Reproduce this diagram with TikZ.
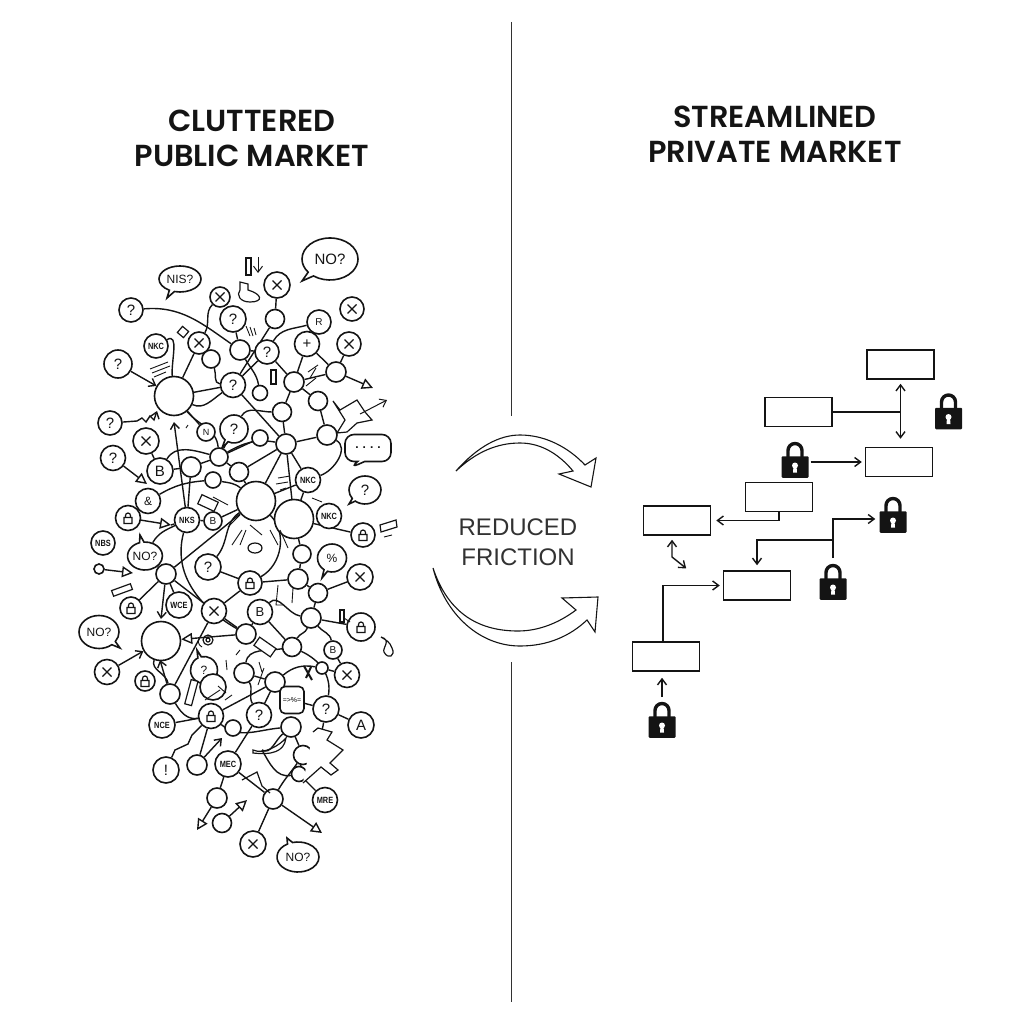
\documentclass[tikz,border=0pt]{standalone}
\usepackage{fontspec}
\setmainfont{Liberation Sans}
\newfontfamily\titlefont{Poppins SemiBold}
\newfontfamily\tagfont[FakeStretch=0.82]{Liberation Sans Bold}
\usepackage{xcolor}
\usetikzlibrary{
    arrows.meta,
    positioning,
    backgrounds,
    shapes.geometric,
    shapes.callouts
}
\definecolor{inkBlack}{RGB}{20,20,20}
\definecolor{ruleGray}{RGB}{50,50,50}
\tikzset{
  circ/.style    = {circle, draw=inkBlack, line width=1.6pt, fill=white, inner sep=0pt,
                    minimum size=#1, font=\fontsize{15}{15}\selectfont, text=inkBlack},
  tagn/.style    = {circ=#1, font=\tagfont\fontsize{9}{9}\selectfont},
  crossn/.style  = {circ=#1, path picture={\draw[line width=1.2pt, inkBlack,
                    shift={(path picture bounding box.center)}]
                    (-4.5,-4.5) -- (4.5,4.5) (-4.5,4.5) -- (4.5,-4.5);}},
  lockn/.style   = {circ=#1, path picture={\draw[line width=1.2pt, inkBlack,
                    shift={(path picture bounding box.center)}]
                    (-4,-5.5) rectangle (4,0.5) (-2.5,0.5) -- (-2.5,2.5) arc (180:0:2.5) -- (2.5,0.5);}},
  talk/.style    = {ellipse callout, draw=inkBlack, line width=1.6pt, fill=white, inner sep=0pt,
                    font=\fontsize{12}{12}\selectfont, text=inkBlack},
  box/.style     = {draw=inkBlack, line width=1.5pt, minimum width=67pt, minimum height=29pt,
                    inner sep=0pt},
  wire/.style    = {draw=inkBlack, line width=1.4pt},
  arr/.style     = {wire, -{Straight Barb[length=6pt,width=9pt]}},
  arro/.style    = {wire, -{Triangle[open,length=11pt,width=11pt,fill=white]}},
  barr/.style    = {wire, shorten <=4pt, shorten >=8pt},
  scrib/.style   = {draw=inkBlack, line width=0.9pt},
  lockblack/.pic = {
    \node[fill=inkBlack, rounded corners=1pt, minimum width=27pt, minimum height=21.5pt,
          inner sep=0pt] (-b) at (0,0) {};
    \draw[inkBlack, line width=3.4pt] (-7,9) -- (-7,16.5) arc (180:0:7) -- (7,9);
    \fill[white] (0,1.5) circle (3pt);
    \fill[white] (-1.5,1) -- (1.5,1) -- (2,-5.5) -- (-2,-5.5) -- cycle;
    \coordinate (-t) at (0,25);
  }
}
\begin{document}
\begin{tikzpicture}[x=1pt,y=1pt]
  \useasboundingbox (0,0) rectangle (1024,-1024);
  % titles
  \node[align=center, text=inkBlack, font=\titlefont\fontsize{30.4}{35}\selectfont]
    (titleL) at (252,-138) {CLUTTERED\\PUBLIC MARKET};
  \node[align=center, text=inkBlack, font=\titlefont\fontsize{30.4}{35}\selectfont]
    (titleR) at (775,-134) {STREAMLINED\\PRIVATE MARKET};
  \node[align=center, text=ruleGray, font=\fontsize{24}{30}\selectfont]
    (fric) at (518,-542) {REDUCED\\FRICTION};

  % divider
  \coordinate (divA) at (511.5,-22);
  \coordinate (divB) at (511.5,-416);
  \coordinate (divC) at (511.5,-662);
  \coordinate (divD) at (511.5,-1002);
  \draw[ruleGray, line width=1.2pt] (divA) -- (divB) (divC) -- (divD);

  % curved arrows
  \draw[inkBlack, line width=1.1pt, line join=miter, fill=white]
    (456,-471) .. controls (478,-446) and (500,-435) .. (520,-435)
    .. controls (545,-435) and (568,-447) .. (585,-465)
    -- (596,-458) -- (591,-487) -- (559,-474) -- (573,-471)
    .. controls (558,-453) and (540,-443) .. (520,-443)
    .. controls (497,-443) and (476,-452) .. (456,-471) -- cycle;
  \draw[inkBlack, line width=1.1pt, line join=miter, fill=white]
    (433,-568) .. controls (445,-615) and (480,-646) .. (520,-646)
    .. controls (548,-646) and (570,-636) .. (587,-620)
    -- (595,-632) -- (598,-597) -- (562,-598) -- (576,-610)
    .. controls (560,-622) and (540,-631) .. (518,-631)
    .. controls (475,-631) and (447,-610) .. (433,-568) -- cycle;

  % private market
  \node[box] (boxA) at (900.5,-364.5) {};
  \node[box] (boxB) at (798.5,-412) {};
  \node[box] (boxC) at (899,-462) {};
  \node[box] (boxD) at (779,-497) {};
  \node[box] (boxE) at (677,-520.5) {};
  \node[box] (boxF) at (757,-585.5) {};
  \node[box] (boxG) at (666,-656.5) {};
  \pic (lockA) at (948.5,-418.5) {lockblack};
  \pic (lockB) at (795,-467) {lockblack};
  \pic (lockC) at (893,-522) {lockblack};
  \pic (lockD) at (833,-589) {lockblack};
  \pic (lockE) at (662,-727) {lockblack};
  \coordinate (junc) at (833,-540);
  \coordinate (ebend) at (672,-557);
  \coordinate (eend) at (687,-569);

  \draw[wire] (boxB.east) -- (boxB.east -| boxA.south);
  \draw[barr, {Straight Barb[length=6pt,width=9pt]}-{Straight Barb[length=6pt,width=9pt]}]
    (boxA.south) -- (boxA.south |- boxC.north);
  \draw[wire, shorten <=2pt, shorten >=3pt, -{Straight Barb[length=6pt,width=9pt]}]
    ([yshift=5pt]lockB-b.east) -- ([yshift=5pt]lockB-b.east -| boxC.west);
  \draw[wire, shorten >=5pt, -{Straight Barb[length=6pt,width=9pt]}] (boxD.south) |- (boxE.east);
  \draw[wire, shorten <=4pt, shorten >=1pt, {Straight Barb[length=6pt,width=9pt]}-{Straight Barb[length=6pt,width=9pt]}]
    ([xshift=-5pt]boxE.south) -- (ebend) -- (eend);
  \draw[wire, shorten >=3pt, -{Straight Barb[length=6pt,width=9pt]}] ([xshift=-3pt]boxG.north) |- (boxF.west);
  \draw[wire, shorten <=6pt] (lockD-t) -- (junc);
  \draw[wire, shorten >=5pt, -{Straight Barb[length=6pt,width=9pt]}] (junc) -| (boxF.north);
  \draw[wire, shorten >=4pt, -{Straight Barb[length=6pt,width=9pt]}] (junc) |- ([yshift=3pt]lockC-b.west);
  \draw[wire, shorten <=5pt, shorten >=6pt, -{Straight Barb[length=6pt,width=9pt]}] (lockE-t) -- (lockE-t |- boxG.south);

  % public market, top
  \node[talk, minimum width=56pt, minimum height=42pt, callout absolute pointer={(302,-281)}, font=\fontsize{15}{15}\selectfont] (talkA) at (330,-259) {NO?};
  \node[talk, minimum width=42pt, minimum height=26pt, callout absolute pointer={(167,-298)}] (talkB) at (180,-279) {NIS?};
  \node[crossn=26] (x1) at (277,-285) {};
  \node[circ=19] (d1) at (275,-319) {};
  \node[crossn=20] (x2) at (220,-297) {};
  \node[circ=26] (q1) at (233,-319) {?};
  \node[circ=24] (q2) at (131,-310) {?};
  \node[crossn=24] (x3) at (352,-309) {};
  \node[circ=24, font=\fontsize{10}{10}\selectfont] (g1) at (319,-322) {R};
  \node[circ=25] (x4) at (307,-344) {+};
  \node[crossn=24] (x5) at (349,-344) {};
  \node[tagn=24] (t1) at (156,-346) {NKC};
  \node[crossn=22] (x6) at (199,-343) {};
  \node[circ=18] (d2) at (211,-359) {};
  \node[circ=20] (d3) at (240,-350) {};
  \node[circ=24] (q3) at (267,-352) {?};
  \node[circ=28] (q4) at (118,-364) {?};
  \node[circ=39] (h1) at (174,-396) {};
  \node[circ=25] (q5) at (233,-385) {?};
  \node[circ=15] (d4) at (260,-393) {};
  \node[circ=20] (d5) at (294,-382) {};
  \node[circ=20] (d6) at (336,-372) {};
  \node[circ=19] (d7) at (318,-401) {};
  \node[circ=19] (d8) at (282,-412) {};
  \node[circ=20] (d9) at (327,-435) {};
  \node[circ=20] (d10) at (286,-444) {};
  \node[talk, rectangle callout, rounded corners=9pt, minimum width=46pt, minimum height=27pt, callout absolute pointer={(350,-468)}, font=\bfseries\fontsize{12}{12}\selectfont] (talkC) at (368,-448) {.\,\,.\,\,.\,\,.};
  \node[talk, minimum width=32pt, minimum height=28pt, callout absolute pointer={(349,-504)}, font=\fontsize{15}{15}\selectfont] (talkD) at (365,-490) {?};
  \node[circ=24] (q6) at (110,-423) {?};
  \node[crossn=26] (x7) at (146,-441) {};
  \node[circ=18, font=\fontsize{9}{9}\selectfont] (g2) at (206,-432) {N};
  \node[talk, minimum width=28pt, minimum height=28pt, callout absolute pointer={(222,-448)}, font=\fontsize{15}{15}\selectfont] (talkE) at (234,-429) {?};
  \node[circ=16] (d11) at (260,-438) {};
  \node[circ=18] (d12) at (219,-457) {};
  \node[circ=25] (q7) at (113,-458) {?};
  \node[circ=26] (b1) at (160,-471) {B};
  \node[circ=20] (d13) at (191,-467) {};
  \node[circ=19] (d14) at (239,-472) {};
  \node[tagn=25] (t2) at (308,-480) {NKC};
  \node[circ=16] (d15) at (213,-480) {};
  \node[circ=39] (h2) at (256,-501) {};
  \node[circ=25, font=\fontsize{12}{12}\selectfont] (g3) at (148,-501) {\&};
  \node[circ=39] (h3) at (294,-519) {};
  \node[lockn=25] (lk1) at (128,-518) {};
  \node[tagn=25] (t3) at (187,-520) {NKS};
  \node[circ=18, font=\fontsize{10}{10}\selectfont] (b2) at (213,-521) {B};
  \node[tagn=25] (t4) at (329,-516) {NKC};
  \node[lockn=24] (lk2) at (363,-535) {};
  % public market, middle
  \node[tagn=24] (t5) at (103,-543) {NBS};
  \node[talk, minimum width=34pt, minimum height=28pt, callout absolute pointer={(140,-535)}] (talkF) at (145,-556) {NO?};
  \node[circ=10] (d16) at (99,-569) {};
  \node[circ=20] (d17) at (166,-574) {};
  \node[circ=26] (q8) at (208,-567) {?};
  \node[lockn=24] (lk3) at (250,-583) {};
  \node[circ=18] (d18) at (302,-554) {};
  \node[circ=20] (d19) at (298,-579) {};
  \node[talk, minimum width=29pt, minimum height=28pt, callout absolute pointer={(322,-578)}, font=\fontsize{12}{12}\selectfont] (talkG) at (332,-558) {\%};
  \node[crossn=26] (x8) at (360,-577) {};
  \node[circ=19] (d20) at (318,-593) {};
  \node[lockn=22] (lk4) at (131,-608) {};
  \node[tagn=26] (t6) at (179,-605) {WCE};
  \node[crossn=25] (x9) at (214,-611) {};
  \node[circ=25, font=\fontsize{13}{13}\selectfont] (b3) at (260,-612) {B};
  \node[circ=20] (d21) at (311,-618) {};
  \node[lockn=28] (lk5) at (361,-627) {};
  \node[talk, minimum width=40pt, minimum height=33pt, callout absolute pointer={(120,-648)}] (talkH) at (99,-632) {NO?};
  \node[circ=39] (h4) at (161,-641) {};
  \node[circ=20] (d22) at (246,-634) {};
  \node[circ=19] (d23) at (292,-647) {};
  \node[circ=18, font=\fontsize{10}{10}\selectfont] (b4) at (333,-650) {B};
  \node[crossn=25] (x10) at (107,-672) {};
  \node[lockn=20] (lk6) at (145,-681) {};
  \node[talk, minimum width=27pt, minimum height=27pt, callout absolute pointer={(197,-650)}, font=\fontsize{12}{12}\selectfont] (talkI) at (204,-670) {?};
  \node[circ=20] (d24) at (244,-673) {};
  \node[circ=20] (d25) at (275,-682) {};
  \node[circ=12] (d26) at (322,-668) {};
  \node[crossn=25] (x11) at (347,-675) {};
  \node[circ=26] (g4) at (213,-687) {};
  \node[circ=20] (d27) at (170,-694) {};
  \node[draw=inkBlack, line width=1.6pt, fill=white, rounded corners=5pt, minimum width=24pt,
        minimum height=27pt, inner sep=0pt, font=\fontsize{7}{7}\selectfont] (tomb) at (292,-700) {=>\%=};
  \node[circ=26] (q9) at (326,-709) {?};
  % public market, bottom
  \node[tagn=26] (t7) at (162,-725) {NCE};
  \node[lockn=25] (lk7) at (211,-716) {};
  \node[circ=25] (q10) at (259,-715) {?};
  \node[circ=16] (d28) at (233,-728) {};
  \node[circ=26, font=\fontsize{15}{15}\selectfont] (a1) at (361,-725) {A};
  \node[circ=20] (d29) at (291,-727) {};
  \node[circ=26] (ex) at (166,-770) {!};
  \node[circ=20] (d30) at (197,-765) {};
  \node[tagn=26] (t8) at (228,-764) {MEC};
  \node[circ=19] (d31) at (303,-755) {};
  \node[circ=15] (d32) at (299,-774) {};
  \node[circ=20] (d33) at (217,-798) {};
  \node[circ=20] (d34) at (273,-799) {};
  \node[tagn=25] (t9) at (325,-800) {MRE};
  \node[circ=19] (d35) at (222,-823) {};
  \node[crossn=26] (x12) at (253,-844) {};
  \node[talk, minimum width=42pt, minimum height=30pt, callout absolute pointer={(287,-838)}] (talkJ) at (298,-857) {NO?};

  % free ends of connectors
  \coordinate (endA) at (373,-388);
  \coordinate (endB) at (387,-400);
  \coordinate (endC) at (147,-484);
  \coordinate (endD) at (133,-573);
  \coordinate (endE) at (197,-830);
  \coordinate (endF) at (247,-800);
  \coordinate (endG) at (322,-833);
  \coordinate (endH) at (222,-738);
  \coordinate (endI) at (174,-422);
  \coordinate (endJ) at (161,-619);
  \coordinate (endK) at (157,-411);
  \coordinate (endL) at (171,-525);
  \coordinate (endM) at (160,-660);

  \begin{scope}[on background layer]
    % top
    \draw[wire] (q2) to[out=5,in=145] (d3);
    \draw[wire] (x1) -- (d1) -- (q5);
    \draw[wire] (x2) to[out=225,in=60] (x6);
    \draw[wire] (t1) to[out=30,in=95] (h1);
    \draw[wire] (q1) -- (d3) -- (q3);
    \draw[wire] (x6) -- (d2);
    \draw[wire] (x6) -- (h1);
    \draw[wire] (d2) to[out=-70,in=175] (q5);
    \draw[wire] (d3) to[out=-60,in=100] (d4);
    \draw[wire] (q3) -- (q5);
    \draw[wire] (q3) to[out=60,in=195] (g1);
    \draw[wire] (q3) -- (d5);
    \draw[wire] (x4) -- (d5);
    \draw[wire] (x4) -- (d6);
    \draw[wire] (x5) -- (d6);
    \draw[wire] (d6) -- (d5);
    \draw[arro] (d6) -- (endA);
    \draw[wire] (d5) -- (d7);
    \draw[wire] (d5) -- (d8);
    \draw[wire] (d7) -- (d9);
    \draw[wire] (h1) -- (q5);
    \draw[wire] (h1) to[out=-25,in=215] (q5);
    \draw[wire] (q5) -- (d10);
    \draw[wire] (talkE) to[out=60,in=180] (d8);
    \draw[wire] (d10) -- (d9);
    \draw[wire] (d10) -- (d8);
    \draw[wire] (h1) -- (g2);
    \draw[wire] (h1) to[out=-50,in=95] (d12);
    \draw[wire] (d12) -- (talkE);
    \draw[wire] (d12) -- (d11);
    \draw[wire] (d12) -- (d14);
    \draw[wire] (d12) -- (d13);
    \draw[wire] (d12) to[out=30,in=170] (d10);
    \draw[wire] (d14) -- (d10);
    \draw[wire] (d10) -- (h3);
    \draw[wire] (d10) -- (h2);
    \draw[wire] (d10) -- (t2);
    \draw[wire] (d9) to[out=-30,in=20] (t2);
    \draw[wire] (x7) -- (b1);
    \draw[arr] (q4) -- (h1);
    \draw[arro] (q7) -- (endC);
    \draw[wire] (b1) -- (d13);
    \draw[wire] (b1) to[out=60,in=165] (d12);
    \draw[arr] (t3) -- (endI);
    \draw[wire] (d13) -- (t3);
    \draw[wire] (g3) to[out=30,in=185] (d15);
    \draw[wire] (d15) to[out=-10,in=140] (h2);
    \draw[wire] (d14) -- (h2);
    \draw[wire] (b2) -- (h2);
    \draw[wire] (t3) -- (b2);
    \draw[arro] (lk1) -- (endL);
    \draw[wire] (endL) -- (t3);
    \draw[wire] (talkF) to[out=60,in=205] (t3);
    \draw[wire] (h3) -- (lk2);
    \draw[wire] (h3) -- (t2);
    \draw[wire] (h2) -- (t2);
    \draw[wire] (h3) -- (d18) -- (d19);
    % squiggle into the big hub
    \draw[arr] (q6) -- (137,-421) -- (142,-418) -- (146,-422) -- (150,-416) -- (154,-420) -- (endK);
    % middle
    \draw[arro] (d16) -- (endD);
    \draw[wire] (d17) -- (lk4);
    \draw[wire] (d17) -- (t6);
    \draw[arr] (d17) -- (endJ);
    \draw[wire] (d17) -- (x9);
    \draw[wire] (d17) -- (talkF);
    \draw[wire] (d17) -- (h2);
    \draw[wire] (t3) to[out=-105,in=150] (d22);
    \draw[wire] (q8) -- (lk3);
    \draw[wire] (q8) to[out=50,in=215] (h2);
    \draw[wire] (h2) to[out=-45,in=30] (lk3);
    \draw[wire] (lk3) -- (d19);
    \draw[wire] (d19) -- (d20);
    \draw[wire] (x8) -- (d20);
    \draw[wire] (lk3) -- (x9);
    \draw[wire] (x9) -- (d22);
    \draw[wire] (d22) -- (b3);
    \draw[wire] (b3) -- (d23);
    \draw[arro] (d22) -- (h4);
    \draw[wire] (x9) -- (d27);
    \draw[wire] (d23) to[out=60,in=-110] (d21);
    \draw[wire] (b3) to[out=45,in=170] (d21);
    \draw[wire] (d20) -- (d21);
    \draw[wire] (d21) to[out=-50,in=100] (b4);
    \draw[wire] (b4) -- (x11);
    \draw[wire] (lk5) -- (d21);
    \draw[wire] (d24) to[out=80,in=190] (d23);
    \draw[wire] (d23) to[out=-25,in=80] (q9);
    \draw[arr] (x10) -- (h4);
    \draw[wire] (h4) to[out=-110,in=100] (d27);
    \draw[arr] (d27) -- (endM);
    \draw[wire] (d27) to[out=-60,in=190] (lk7);
    \draw[wire] (t7) -- (lk7);
    % bottom
    \draw[wire] (lk7) -- (d30);
    \draw[arr] (d30) -- (endH);
    \draw[wire] (ex) -- (175,-750) -- (188,-744) -- (192,-735) -- (lk7);
    \draw[wire] (lk7) -- (d25);
    \draw[wire] (lk7) to[out=-40,in=185] (d29);
    \draw[wire] (q10) -- (t8);
    \draw[wire] (q10) to[out=120,in=-60] (d24);
    \draw[wire] (q10) -- (d25);
    \draw[wire] (t8) -- (d33);
    \draw[arro] (d33) -- (endE);
    \draw[arro] (d35) -- (endF);
    \draw[wire] (t8) -- (d34);
    \draw[wire] (d34) to[out=60,in=-125] (d31);
    \draw[wire] (d34) -- (x12);
    \draw[arro] (d34) -- (endG);
    \draw[wire] (d32) -- (t9);
    \draw[wire] (d32) -- (d31);
    \draw[wire] (d29) -- (d31);
    \draw[wire] (d25) -- (tomb);
    \draw[wire] (d25) to[out=40,in=170] (d26);
    \draw[wire] (d26) -- (x11);
    \draw[wire] (q9) -- (a1);
    \draw[wire] (tomb) -- (q9);
    \draw[wire] (d24) -- (d25);
    \draw[wire] (q9) to[out=-100,in=40] (d31);
    \draw[wire] (d29) to[out=-140,in=-30] (262,-750);
    \draw[wire] (262,-750) to[out=-60,in=190] (d32);
  \end{scope}

  % loose bars, zigzags and scribbles
  \draw[scrib, line width=1.2pt, fill=white] (246,-258) rectangle (251,-275);
  \draw[arr, line width=1pt] (258,-257) -- (258,-273);
  \draw[scrib, line width=1.2pt] (240,-282) -- (248,-284) -- (248,-290) .. controls (262,-294) and (264,-302) .. (250,-302) .. controls (240,-302) and (236,-295) .. (240,-290) -- cycle;
  \draw[scrib, line width=1.2pt, fill=white, rotate around={-40:(183,-332)}] (179,-336) rectangle (187,-328);
  \draw[scrib] (150,-369) -- (168,-362) (152,-373) -- (170,-366) (154,-377) -- (166,-372);
  \draw[scrib, line width=1.2pt, fill=white] (271,-370) rectangle (276,-384);
  \draw[scrib, line width=1.2pt, fill=white] (333,-401) -- (340,-410) -- (357,-400) -- (365,-412) -- (372,-420) -- (357,-423) -- (347,-432) -- (337,-433) -- (345,-420) -- cycle;
  \draw[arr, line width=1pt] (360,-414) -- (endB);
  \draw[scrib] (250,-336) -- (246,-326) (253,-336) -- (250,-327) (256,-335) -- (254,-328);
  \draw[scrib] (308,-372) -- (318,-365) (310,-378) -- (316,-368) (306,-386) -- (316,-378);
  \draw[scrib] (278,-478) -- (290,-476) (276,-484) -- (288,-482) (280,-490) -- (286,-488);
  \draw[scrib] (312,-498) -- (322,-502) (188,-425) -- (186,-428);
  \draw[scrib, line width=1.2pt, fill=white, rotate around={-25:(208,-503)}] (199,-508) rectangle (217,-498);
  \draw[scrib] (213,-497) -- (228,-505) (228,-527) -- (240,-515) (232,-545) -- (242,-530) (240,-545) -- (246,-530);
  \draw[scrib] (270,-530) -- (278,-545) (280,-530) -- (288,-548) (250,-525) -- (262,-535);
  \draw[scrib, line width=1.2pt, fill=white] (255,-548) ellipse (7 and 5);
  \draw[scrib, line width=1.2pt, fill=white, rotate around={20:(122,-590)}] (112,-593) rectangle (132,-587);
  \draw[scrib] (278,-585) -- (276,-605) -- (284,-605) (293,-588) -- (292,-603);
  \draw[scrib, line width=1.2pt, fill=white] (340,-610) rectangle (344,-622);
  \draw[scrib] (344,-618) -- (350,-622);
  \draw[scrib, line width=1.2pt] (381,-637) .. controls (392,-640) and (382,-648) .. (384,-652) .. controls (388,-660) and (396,-656) .. (392,-648) .. controls (390,-642) and (386,-640) .. (381,-637);
  \draw[scrib, line width=1.2pt, fill=white] (380,-525) -- (396,-520) -- (397,-527) -- (381,-532) -- cycle;
  \draw[scrib] (384,-537) -- (392,-535);
  \draw[scrib, line width=1.2pt] (208,-640) circle (5) (208,-640) circle (2);
  \draw[scrib] (200,-637) .. controls (197,-640) and (198,-645) .. (202,-647);
  \draw[scrib, line width=1.2pt, fill=white, rotate around={-35:(265,-647)}] (255,-652) rectangle (275,-642);
  \draw[scrib, line width=1.2pt, fill=white, rotate around={-15:(191,-692)}] (188,-680) rectangle (195,-705);
  \draw[scrib, line width=2pt] (304,-666) -- (312,-680) (306,-678) -- (311,-667);
  \draw[scrib] (226,-660) -- (227,-670) (240,-650) -- (236,-655) (259,-662) -- (262,-672) (258,-685) -- (264,-668);
  \draw[scrib] (205,-700) -- (220,-690) (226,-693) -- (218,-686) (225,-700) -- (232,-695);
  \draw[scrib, line width=1.2pt, fill=white] (313,-732) -- (318,-728) -- (332,-732) -- (327,-740) -- (343,-750) -- (330,-763) -- (338,-770) -- (331,-775) -- (321,-767) -- (303,-783);
  \draw[scrib, line width=1.2pt] (253,-750) .. controls (264,-755) and (280,-745) .. (286,-738) .. controls (284,-752) and (272,-755) .. (253,-753) -- cycle;
  \draw[scrib, line width=1.2pt] (242,-780) -- (257,-772) -- (262,-786) -- (270,-793);
\end{tikzpicture}
\end{document}
